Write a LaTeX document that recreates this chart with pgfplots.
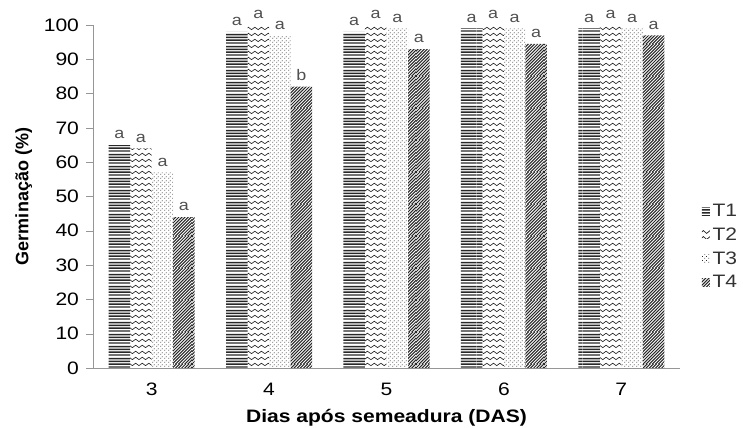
\documentclass[border=0pt]{standalone}
\usepackage{fontspec}
\setmainfont{Liberation Sans}[FakeStretch=1.17]
\newfontfamily\plainfont{Liberation Sans}
\usepackage{pgfplots}
\pgfplotsset{compat=1.18}
\usetikzlibrary{patterns,calc}

\pgfdeclarepatternformonly{hl}{\pgfqpoint{0pt}{0pt}}{\pgfqpoint{40pt}{9pt}}{\pgfqpoint{40pt}{9pt}}{%
  \pgfpathrectangle{\pgfqpoint{0pt}{0.3pt}}{\pgfqpoint{40pt}{1.1pt}}%
  \pgfpathrectangle{\pgfqpoint{0pt}{2.55pt}}{\pgfqpoint{40pt}{1.1pt}}%
  \pgfpathrectangle{\pgfqpoint{0pt}{4.8pt}}{\pgfqpoint{40pt}{1.1pt}}%
  \pgfpathrectangle{\pgfqpoint{0pt}{7.05pt}}{\pgfqpoint{40pt}{1.1pt}}%
  \pgfusepath{fill}}

\pgfdeclarepatternformonly{zigzag}{\pgfqpoint{0pt}{0pt}}{\pgfqpoint{40pt}{4.5pt}}{\pgfqpoint{40pt}{4.5pt}}{%
  \pgfsetlinewidth{0.55pt}%
  \pgfpathmoveto{\pgfqpoint{0pt}{1.2pt}}%
  \foreach \k in {0,...,7}{%
    \pgfpathlineto{\pgfpoint{\k*5pt+2.5pt}{3.3pt}}%
    \pgfpathlineto{\pgfpoint{\k*5pt+5pt}{1.2pt}}}%
  \pgfusepath{stroke}}

\pgfdeclarepatternformonly{dd}{\pgfqpoint{0pt}{0pt}}{\pgfqpoint{3pt}{3pt}}{\pgfqpoint{3pt}{3pt}}{%
  \pgfpathrectangle{\pgfqpoint{0.3pt}{0.3pt}}{\pgfqpoint{0.7pt}{0.7pt}}%
  \pgfpathrectangle{\pgfqpoint{1.8pt}{1.8pt}}{\pgfqpoint{0.7pt}{0.7pt}}%
  \pgfusepath{fill}}

\pgfdeclarepatternformonly{ne}{\pgfqpoint{0pt}{0pt}}{\pgfqpoint{24pt}{24pt}}{\pgfqpoint{24pt}{24pt}}{%
  \pgfsetlinewidth{0.8pt}%
  \foreach \k in {-11,...,11}{%
    \pgfpathmoveto{\pgfpoint{\k*2.4pt-1pt}{-1pt}}%
    \pgfpathlineto{\pgfpoint{\k*2.4pt+25pt}{25pt}}}%
  \pgfusepath{stroke}}

\definecolor{axgray}{RGB}{150,150,150}
\definecolor{lblgray}{RGB}{80,80,80}
\definecolor{patgray}{RGB}{40,40,40}

\begin{document}
\begin{tikzpicture}
\begin{axis}[
  scale only axis,
  width=440.25pt, height=257.25pt,
  xmin=-0.5, xmax=4.5, ymin=0, ymax=100,
  axis x line=bottom, axis y line=left,
  axis line style={axgray, -},
  clip=false,
  ybar, bar width=0.183,
  xtick={0,1,2,3,4},
  xticklabels={3,4,5,6,7},
  x tick style={draw=none},
  extra x ticks={-0.5,0.5,1.5,2.5,3.5,4.5},
  extra x tick labels={},
  extra x tick style={tick style={axgray, draw=axgray}, major tick length=5pt},
  ytick={0,10,...,100},
  y tick style={axgray},
  tick align=outside,
  major tick length=5pt,
  /pgf/number format/assume math mode=true,
  tick label style={font=\fontsize{13.5}{15}\selectfont, black},
  yticklabel style={xshift=-2pt},
  xticklabel style={yshift=-3pt},
  xlabel={\bfseries Dias após semeadura (DAS)},
  xlabel style={font=\fontsize{13.5}{15}\selectfont, yshift=7pt},
  ylabel={\plainfont\bfseries Germinação (\%)},
  ylabel style={font=\fontsize{13.5}{15}\selectfont, yshift=2pt},
  point meta=explicit symbolic,
  nodes near coords,
  nodes near coords style={font=\fontsize{11.5}{12}\selectfont, lblgray, anchor=south, yshift=1pt},
  legend style={draw=none, at={(1.03,0.353)}, anchor=west, font=\fontsize{13.5}{15}\selectfont, text=black!80, row sep=3pt, fill=none},
  legend cell align=left,
  legend image code/.code={\fill[#1] (0pt,-3pt) rectangle (6pt,3pt);},
]
\addplot[draw=none, pattern=hl, pattern color=patgray, bar shift=-0.275]
  coordinates {(0,65)[a] (1,98)[a] (2,98)[a] (3,99)[a] (4,99)[a]};
\addlegendentry{T1}
\addplot[draw=none, pattern=zigzag, pattern color=patgray, bar shift=-0.092]
  coordinates {(0,64)[a] (1,100)[a] (2,100)[a] (3,100)[a] (4,100)[a]};
\addlegendentry{T2}
\addplot[draw=none, pattern=dd, pattern color=patgray, bar shift=0.092]
  coordinates {(0,57)[a] (1,97)[a] (2,99)[a] (3,99)[a] (4,99)[a]};
\addlegendentry{T3}
\addplot[draw=none, pattern=ne, pattern color=patgray, bar shift=0.275]
  coordinates {(0,44)[a] (1,82)[b] (2,93)[a] (3,94.5)[a] (4,97)[a]};
\addlegendentry{T4}
\coordinate (bl) at (rel axis cs:0,0);
\coordinate (tr) at (rel axis cs:1,1);
\end{axis}
\pgfresetboundingbox
\path[use as bounding box] ($(bl)+(-69.75pt,-44.25pt)$) rectangle ($(tr)+(47.25pt,18.75pt)$);
\end{tikzpicture}
\end{document}
